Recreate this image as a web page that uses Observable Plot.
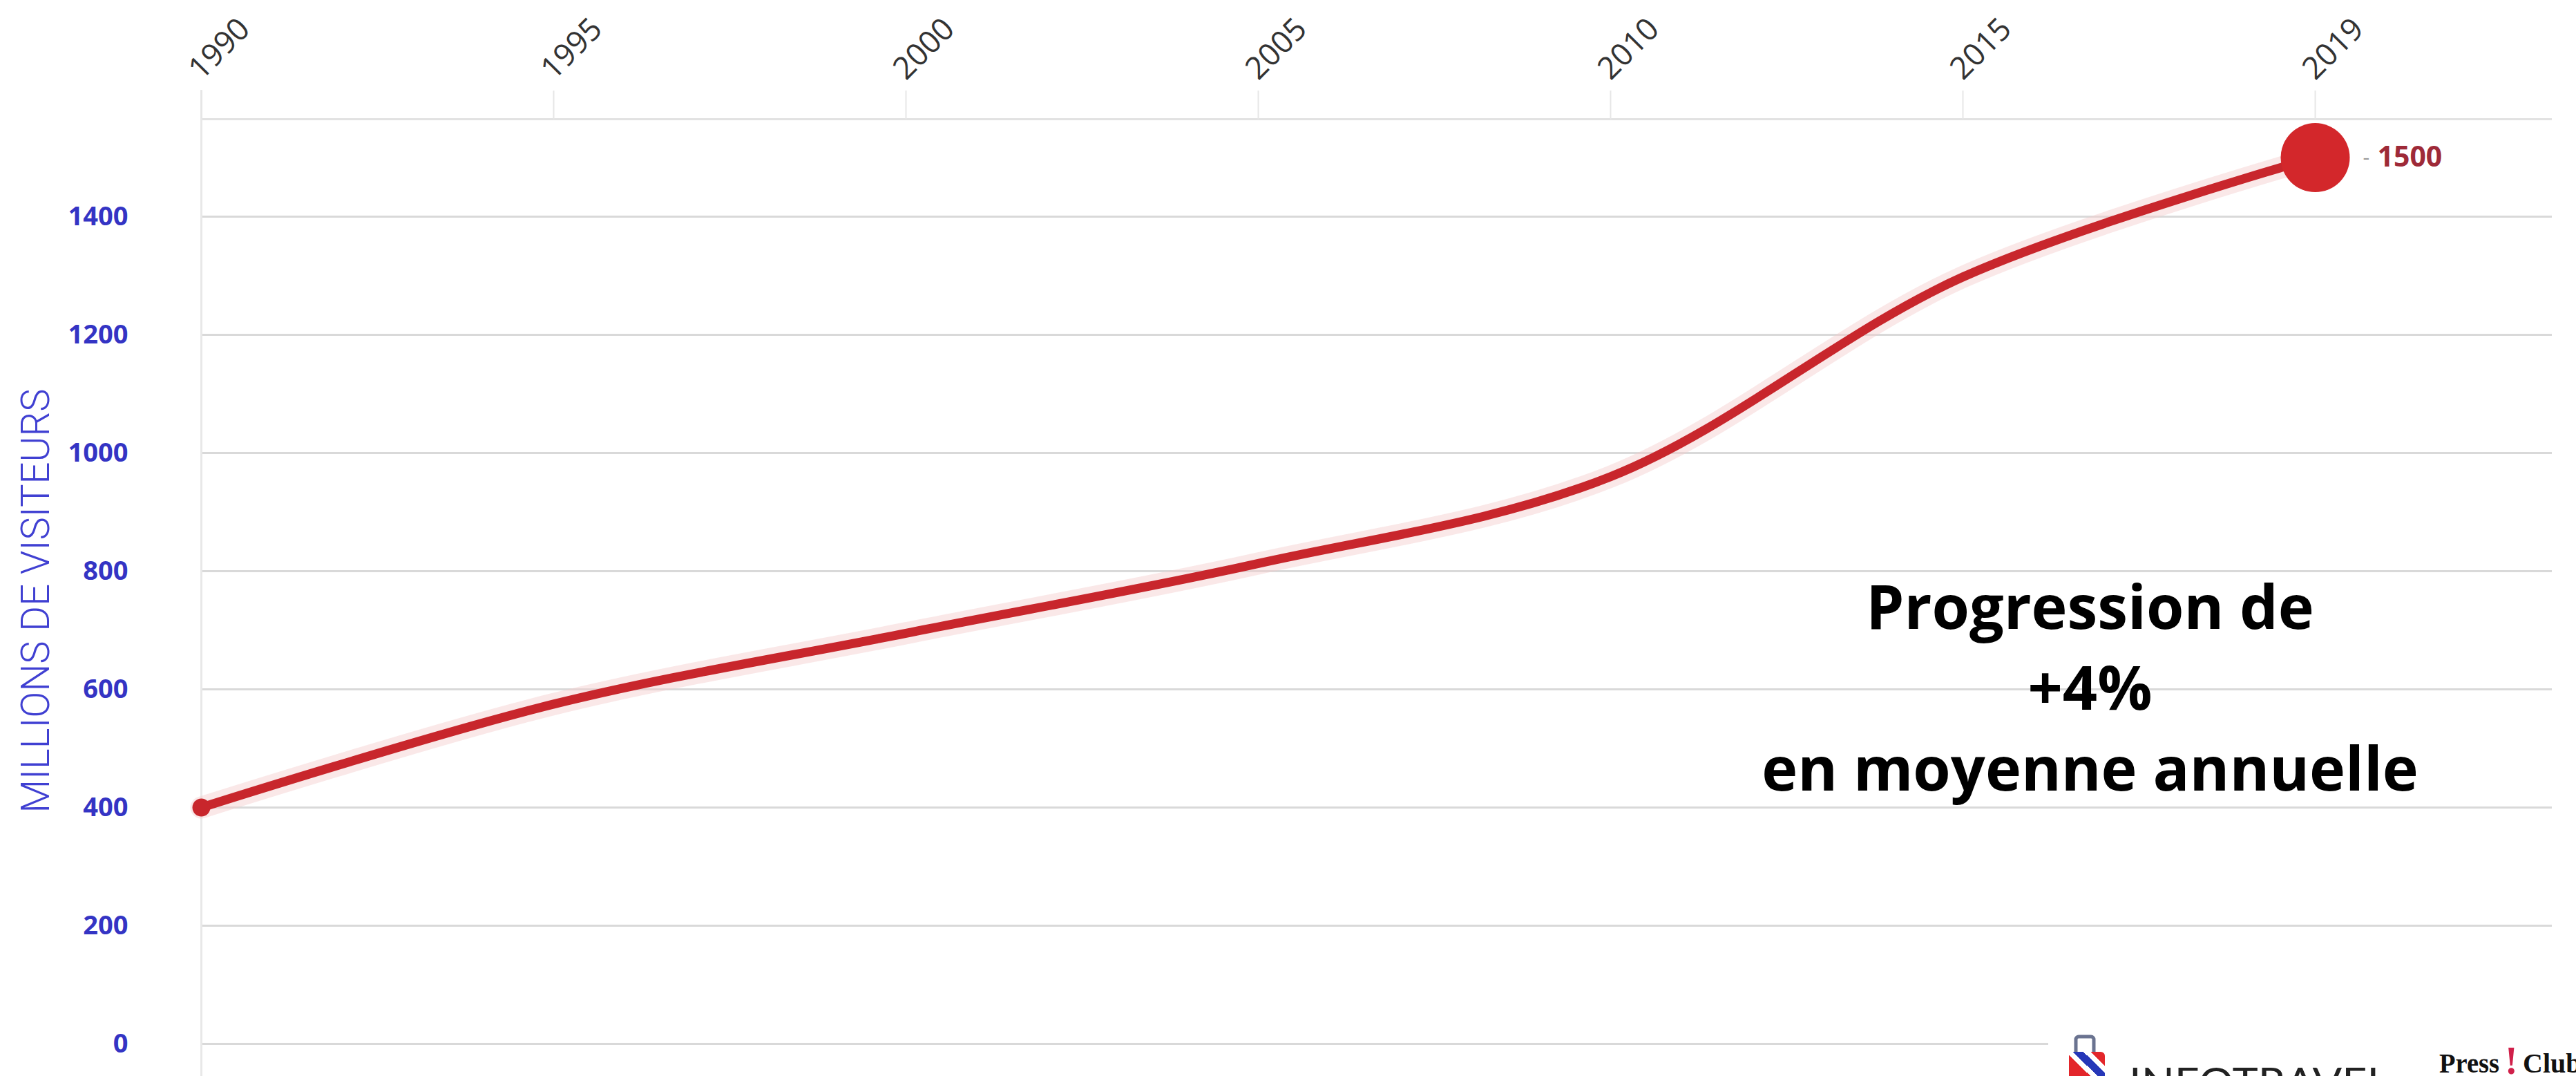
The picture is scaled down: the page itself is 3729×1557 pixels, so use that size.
<!DOCTYPE html>
<html>
<head>
<meta charset="utf-8">
<script src="https://cdn.jsdelivr.net/npm/d3@7"></script>
<script src="https://cdn.jsdelivr.net/npm/@observablehq/plot@0.6"></script>
<style>
  html, body { margin: 0; padding: 0; background: #fff; overflow: hidden; }
  #wrap { position: relative; width: 3729px; height: 1557px; }
  #logos { position: absolute; left: 0; top: 0; pointer-events: none; }
</style>
</head>
<body>
<div id="wrap"></div>
<script>
// ---- data ----
const years = ["1990", "1995", "2000", "2005", "2010", "2015", "2019"];
const visitors = [400, 575, 695, 813, 960, 1298, 1500];
const yTicks = [0, 200, 400, 600, 800, 1000, 1200, 1400];
const yMax = 1565;
const yTitle = "MILLIONS DE VISITEURS";
const annotationLines = ["Progression de", "+4%", "en moyenne annuelle"];

const data = years.map((year, i) => ({year, value: visitors[i]}));
const first = data[0];
const last = data[data.length - 1];

const W = 3729, H = 1557;
const lineColor = "#c8262c";

const chart = Plot.plot({
  width: W,
  height: H,
  marginTop: 172,
  marginBottom: 47,
  marginLeft: 290,
  marginRight: 35,
  style: {background: "#fff", fontFamily: "'Open Sans', sans-serif", overflow: "visible"},
  x: {type: "point", domain: years, range: [290, 3352], padding: 0},
  y: {domain: [0, yMax]},
  marks: [
    Plot.gridY(yTicks, {stroke: "#d9d9d9", strokeWidth: 3, strokeOpacity: 1}),
    Plot.ruleY([yMax], {stroke: "#e2e2e2", strokeWidth: 3}),
    Plot.ruleX([years[0]], {stroke: "#e8e8e8", strokeWidth: 3, insetBottom: -47, insetTop: -42}),
    Plot.axisX({
      anchor: "top", tickSize: 42, tickPadding: 13, tickRotate: -45,
      textAnchor: "start", lineAnchor: "bottom",
      fontSize: 45, fill: "#333", stroke: "#e6e6e6", strokeWidth: 2,
      label: null
    }),
    Plot.axisY(yTicks, {
      anchor: "left", tickSize: 0, tickPadding: 105, tickFormat: d => String(d),
      fontSize: 38, fontWeight: 700, fill: "#3434c4", label: null
    }),
    Plot.text([yTitle], {
      frameAnchor: "left", dx: -238, dy: 28, rotate: -90,
      fontSize: 58, fill: "#4040d2", fontFamily: "Roboto, sans-serif", fontWeight: 300, textAnchor: "middle"
    }),
    Plot.line(data, {x: "year", y: "value", curve: "catmull-rom", stroke: "#f4cccc", strokeWidth: 32, strokeOpacity: 0.45}),
    Plot.line(data, {x: "year", y: "value", curve: "catmull-rom", stroke: lineColor, strokeWidth: 13, strokeLinecap: "round"}),
    Plot.dot([first], {x: "year", y: "value", r: 13, fill: lineColor}),
    Plot.dot([last], {x: "year", y: "value", r: 50, fill: "#d3272b"}),
    Plot.text([last], {x: "year", y: "value", text: () => "-", dx: 69, fontSize: 30, fill: "#999", textAnchor: "start"}),
    Plot.text([last], {x: "year", y: "value", text: d => String(d.value), dx: 90, textAnchor: "start",
      fontSize: 41, fontWeight: 700, fill: "#9e2a38"}),
    Plot.text([annotationLines.join("\n")], {
      frameAnchor: "right", dx: -669, dy: 148, textAnchor: "middle", lineAnchor: "middle",
      lineHeight: 1.33, fontSize: 88, fontWeight: 700, fill: "#000"
    })
  ]
});

document.getElementById("wrap").appendChild(chart);

// squeeze y title into its condensed width
d3.select(chart).selectAll("text").filter(function() { return this.textContent === yTitle; })
  .attr("textLength", 614).attr("lengthAdjust", "spacingAndGlyphs");

// logos (decorative overlay, cut by the bottom edge as in the reference)
const svg = d3.select("#wrap").append("svg").attr("id", "logos")
  .attr("width", W).attr("height", H).attr("xmlns", "http://www.w3.org/2000/svg");
svg.append("rect").attr("x", 2965).attr("y", 1488).attr("width", W - 2965).attr("height", H - 1488).attr("fill", "#fff");
svg.append("rect").attr("x", 3005).attr("y", 1500).attr("width", 26).attr("height", 26).attr("rx", 4)
  .attr("fill", "none").attr("stroke", "#6a7390").attr("stroke-width", 5);
const defs = svg.append("defs");
const pat = defs.append("linearGradient").attr("id", "stripes").attr("x1", "0").attr("y1", "1").attr("x2", "1").attr("y2", "0");
[["0", "#e3262b"], ["0.45", "#e3262b"], ["0.45", "#ffffff"], ["0.55", "#ffffff"], ["0.55", "#2637b8"], ["0.7", "#2637b8"], ["0.7", "#fff"], ["0.8", "#fff"], ["0.8", "#e3262b"], ["1", "#e3262b"]]
  .forEach(([o, c]) => pat.append("stop").attr("offset", o).attr("stop-color", c));
svg.append("rect").attr("x", 2995).attr("y", 1522).attr("width", 52).attr("height", 50).attr("rx", 6).attr("fill", "url(#stripes)");
svg.append("text").attr("x", 3082).attr("y", 1587).attr("font-family", "Lato, sans-serif").attr("font-size", 58)
  .attr("fill", "#222").attr("textLength", 377).attr("lengthAdjust", "spacingAndGlyphs").text("INFOTRAVEL");
svg.append("text").attr("x", 3531).attr("y", 1552).attr("font-family", "'Liberation Serif', serif").attr("font-weight", 700)
  .attr("font-size", 40).attr("fill", "#111").attr("textLength", 87).attr("lengthAdjust", "spacingAndGlyphs").text("Press");
svg.append("text").attr("x", 3626).attr("y", 1554).attr("font-family", "'Liberation Serif', serif").attr("font-weight", 700)
  .attr("font-size", 56).attr("fill", "#d0204a").text("!");
svg.append("text").attr("x", 3652).attr("y", 1552).attr("font-family", "'Liberation Serif', serif").attr("font-weight", 700)
  .attr("font-size", 40).attr("fill", "#111").text("Club/");
</script>
</body>
</html>
